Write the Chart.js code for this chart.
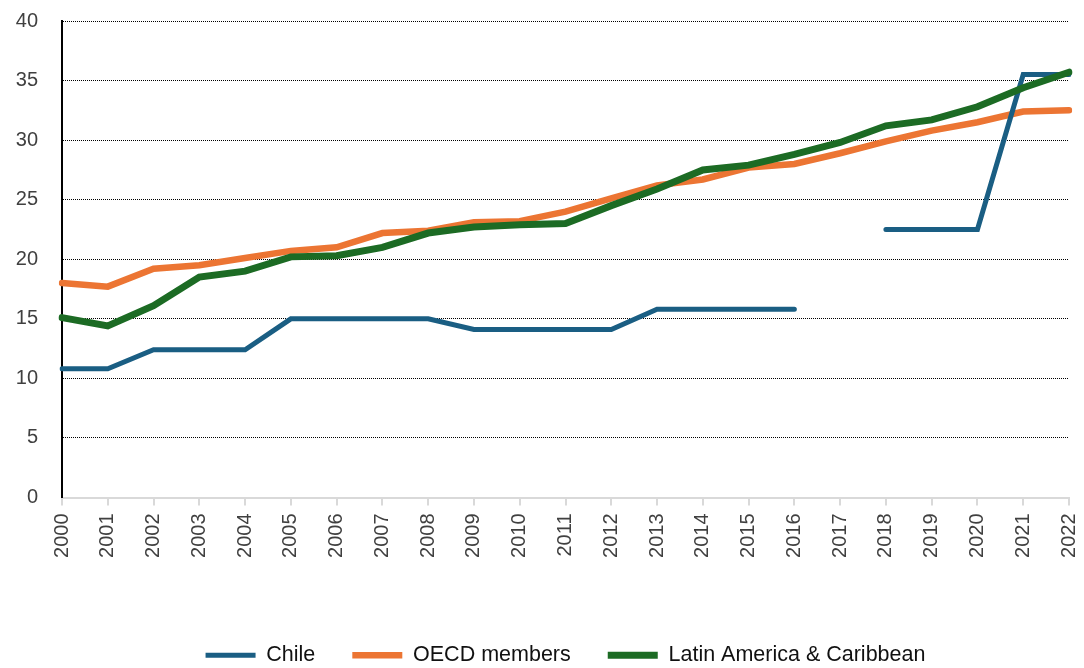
<!DOCTYPE html>
<html>
<head>
<meta charset="utf-8">
<script src="https://cdn.jsdelivr.net/npm/chart.js@4"></script>
<style>
  html, body { margin: 0; padding: 0; background: #fff; }
  #wrap { width: 1084px; height: 668px; }
</style>
</head>
<body>
<div id="wrap"><canvas id="c" width="1084" height="668"></canvas></div>
<script>
const years = ['2000','2001','2002','2003','2004','2005','2006','2007','2008','2009','2010','2011','2012','2013','2014','2015','2016','2017','2018','2019','2020','2021','2022'];
const chile = [10.8,10.8,12.4,12.4,12.4,15.0,15.0,15.0,15.0,14.1,14.1,14.1,14.1,15.8,15.8,15.8,15.8,null,22.5,22.5,22.5,35.5,35.5];
const oecd = [18.0,17.7,19.2,19.5,20.1,20.7,21.0,22.2,22.4,23.1,23.2,24.0,25.1,26.2,26.7,27.7,28.0,28.9,29.9,30.8,31.5,32.4,32.5];
const lac = [15.1,14.4,16.1,18.5,19.0,20.2,20.3,21.0,22.2,22.7,22.9,23.0,24.5,25.9,27.5,27.9,28.8,29.8,31.2,31.7,32.8,34.4,35.7];
const yTicks = [0,5,10,15,20,25,30,35,40];

Chart.defaults.font.family = "'Liberation Sans', Arial, sans-serif";
Chart.defaults.animation = false;

new Chart(document.getElementById('c'), {
  type: 'line',
  data: {
    labels: years,
    datasets: [
      { label: 'Chile', data: chile, borderColor: '#1a5e83', backgroundColor: '#1a5e83',
        borderWidth: 5, pointRadius: 0, pointStyle: 'line', borderCapStyle: 'round', spanGaps: false, order: 1 },
      { label: 'OECD members', data: oecd, borderColor: '#ec7533', backgroundColor: '#ec7533',
        borderWidth: 6.5, pointRadius: 0, pointStyle: 'line', borderCapStyle: 'round', order: 2 },
      { label: 'Latin America & Caribbean', data: lac, borderColor: '#1c6b24', backgroundColor: '#1c6b24',
        borderWidth: 7, pointRadius: 0, pointStyle: 'line', borderCapStyle: 'round', order: 0 }
    ]
  },
  options: {
    responsive: false,
    maintainAspectRatio: false,
    layout: { padding: { top: 21, left: 0, right: 15, bottom: -8 } },
    plugins: {
      tooltip: { enabled: false },
      legend: {
        position: 'bottom',
        fullSize: false,
        labels: {
          usePointStyle: true,
          pointStyleWidth: 50,
          padding: 37,
          color: '#111',
          font: { size: 21.5 },
          sort: (a, b) => a.datasetIndex - b.datasetIndex
        }
      }
    },
    scales: {
      x: {
        offset: false,
        afterFit: (s) => { s.height = 110; s.paddingLeft = 0; s.paddingRight = 0; },
        grid: { drawOnChartArea: false, drawTicks: true, tickLength: 8, color: '#d9d9d9', lineWidth: 2 },
        border: { display: true, color: '#d9d9d9', width: 2 },
        ticks: { autoSkip: false, minRotation: 90, maxRotation: 90, padding: 8, color: '#404040', font: { size: 20 } }
      },
      y: {
        min: 0, max: 40,
        afterFit: (s) => { s.width = 62; s.paddingTop = 0; s.paddingBottom = 0; },
        afterBuildTicks: (s) => { s.ticks = yTicks.map(v => ({ value: v })); },
        grid: {
          drawTicks: false,
          color: (ctx) => ctx.tick && ctx.tick.value === 0 ? 'rgba(0,0,0,0)' : '#000',
          lineWidth: 1
        },
        border: { display: true, color: '#000', width: 2, dash: [1, 1] },
        ticks: { padding: 24, color: '#404040', font: { size: 20 } }
      }
    }
  }
});
</script>
</body>
</html>
